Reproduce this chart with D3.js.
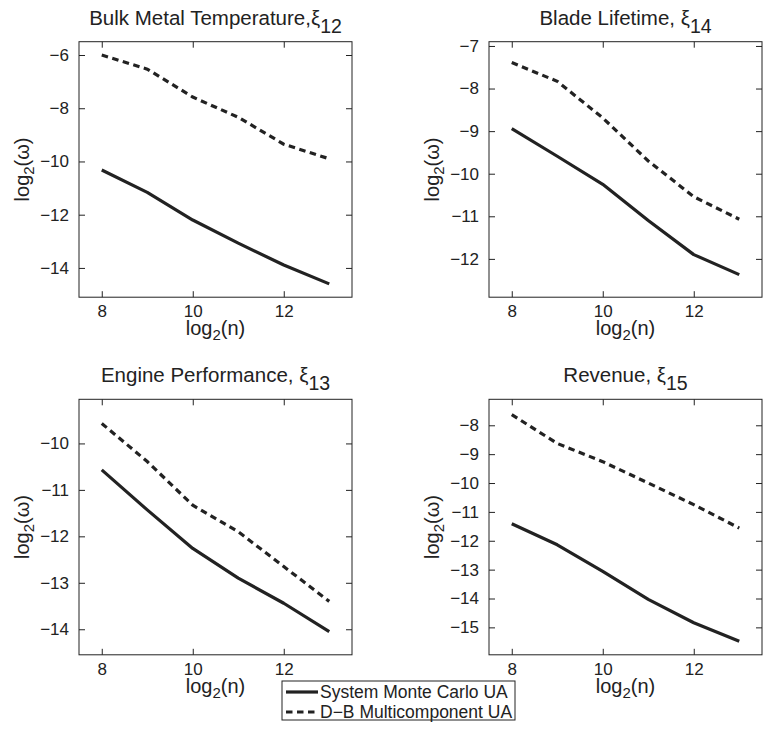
<!DOCTYPE html>
<html>
<head>
<meta charset="utf-8">
<script src="https://cdn.jsdelivr.net/npm/d3@7"></script>
<style>
body { margin: 0; background: #fff; }
text { font-family: "Liberation Sans", Arial, Helvetica, sans-serif; fill: #222; }
</style>
</head>
<body>
<div id="chart"></div>
<script>
// x axis: log2(n)
const nValues = [8, 9, 10, 11, 12, 13];
const xLim = [7.5, 13.5];
const xTicks = [8, 10, 12];

// log2(omega) per output, two methods
const bulkMC = [-10.32, -11.16, -12.2, -13.07, -13.89, -14.6];
const bulkDB = [-6.0, -6.53, -7.58, -8.34, -9.35, -9.9];
const bladeMC = [-8.94, -9.59, -10.25, -11.1, -11.9, -12.37];
const bladeDB = [-7.39, -7.83, -8.69, -9.7, -10.54, -11.07];
const engineMC = [-10.57, -11.43, -12.26, -12.9, -13.44, -14.05];
const engineDB = [-9.57, -10.39, -11.33, -11.9, -12.65, -13.4];
const revenueMC = [-11.41, -12.14, -13.06, -14.03, -14.84, -15.48];
const revenueDB = [-7.63, -8.63, -9.26, -10.0, -10.75, -11.56];

const titles = ["Bulk Metal Temperature,\u03BE", "Blade Lifetime, \u03BE", "Engine Performance, \u03BE", "Revenue, \u03BE"];
const titleSubs = ["12", "14", "13", "15"];
const yLims = [[-15.1, -5.5], [-12.9, -6.9], [-14.55, -9.05], [-15.95, -7.1]];
const yTicks = [[-14, -12, -10, -8, -6], [-12, -11, -10, -9, -8, -7], [-14, -13, -12, -11, -10], [-15, -14, -13, -12, -11, -10, -9, -8]];
const legendLabels = ["System Monte Carlo UA", "D\u2212B Multicomponent UA"];

const mcSeries = [bulkMC, bladeMC, engineMC, revenueMC];
const dbSeries = [bulkDB, bladeDB, engineDB, revenueDB];

const W = 765, H = 730;
const ink = "#222";
const colLeft = [79, 489], rowTop = [41.7, 399.3];
const pw = 273, ph = 255.5;
const fmt = d3.format("d");

const svg = d3.select("#chart").append("svg")
	.attr("width", W).attr("height", H);

titles.forEach((title, i) => {
	const ox = colLeft[i % 2], oy = rowTop[Math.floor(i / 2)];
	const g = svg.append("g").attr("transform", `translate(${ox},${oy})`);

	const x = d3.scaleLinear().domain(xLim).range([0, pw]);
	const y = d3.scaleLinear().domain(yLims[i]).range([ph, 0]);

	// ticks inward on all four sides, like matlab box
	const gb = g.append("g").attr("transform", `translate(0,${ph})`)
		.call(d3.axisBottom(x).tickValues(xTicks).tickFormat(fmt).tickSizeInner(-6).tickSizeOuter(0).tickPadding(8));
	const gt = g.append("g")
		.call(d3.axisTop(x).tickValues(xTicks).tickSizeInner(-6).tickSizeOuter(0).tickFormat(""));
	const gl = g.append("g")
		.call(d3.axisLeft(y).tickValues(yTicks[i]).tickFormat(fmt).tickSizeInner(-6).tickSizeOuter(0).tickPadding(10));
	const gr = g.append("g").attr("transform", `translate(${pw},0)`)
		.call(d3.axisRight(y).tickValues(yTicks[i]).tickSizeInner(-6).tickSizeOuter(0).tickFormat(""));
	[gb, gt, gl, gr].forEach(a => {
		a.select(".domain").remove();
		a.selectAll("line").attr("stroke", ink);
		a.selectAll("text").style("font-size", "17px").attr("fill", ink);
	});

	g.append("rect")
		.attr("width", pw).attr("height", ph)
		.attr("fill", "none").attr("stroke", ink).attr("stroke-width", 1);

	const line = d3.line().x((d, j) => x(nValues[j])).y(d => y(d));
	g.append("path").datum(dbSeries[i])
		.attr("d", line).attr("fill", "none")
		.attr("stroke", ink).attr("stroke-width", 3.2)
		.attr("stroke-dasharray", "6.5,4.5");
	g.append("path").datum(mcSeries[i])
		.attr("d", line).attr("fill", "none")
		.attr("stroke", ink).attr("stroke-width", 3.2)
		.attr("stroke-linejoin", "round");

	// title
	const t = g.append("text")
		.attr("x", pw / 2).attr("y", -17)
		.attr("text-anchor", "middle").style("font-size", "20.5px");
	t.append("tspan").text(title);
	t.append("tspan").attr("dy", 8).style("font-size", "19.5px").text(titleSubs[i]);

	// x label
	const xl = g.append("text")
		.attr("x", pw / 2).attr("y", ph + 38)
		.attr("text-anchor", "middle").style("font-size", "20px");
	xl.append("tspan").text("log");
	xl.append("tspan").attr("dy", 5).style("font-size", "15px").text("2");
	xl.append("tspan").attr("dy", -5).text("(n)");

	// y label
	const yl = g.append("text")
		.attr("transform", `translate(-50,${ph / 2}) rotate(-90)`)
		.attr("text-anchor", "middle").style("font-size", "20px");
	yl.append("tspan").text("log");
	yl.append("tspan").attr("dy", 5).style("font-size", "15px").text("2");
	yl.append("tspan").attr("dy", -5).text("(\u03C9)");
});

// legend
const lg = svg.append("g").attr("transform", "translate(282,681)");
lg.append("rect").attr("width", 233).attr("height", 39)
	.attr("fill", "#fff").attr("stroke", ink).attr("stroke-width", 1);
legendLabels.forEach((lab, k) => {
	const ly = 11 + k * 20;
	lg.append("line")
		.attr("x1", 4).attr("x2", 36).attr("y1", ly).attr("y2", ly)
		.attr("stroke", ink).attr("stroke-width", 3.2)
		.attr("stroke-dasharray", k === 1 ? "6.5,4.5" : null);
	lg.append("text").attr("x", 38).attr("y", ly + 6)
		.style("font-size", "17.5px").text(lab);
});
</script>
</body>
</html>
